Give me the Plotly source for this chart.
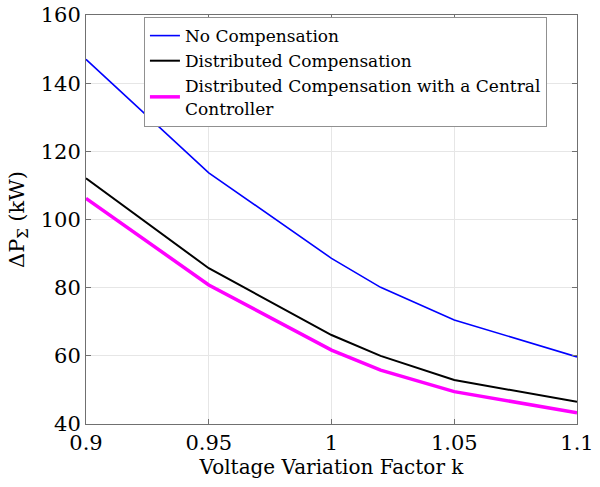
import plotly.graph_objects as go

# Voltage variation factor k
k_values = [0.9, 0.95, 1.0, 1.02, 1.05, 1.1]

# Total power loss ΔP_Σ in kW for each scheme
loss_no_comp = [147.0, 113.7, 88.6, 80.1, 70.5, 59.7]
loss_distributed = [112.1, 85.7, 66.1, 60.0, 52.9, 46.5]
loss_central = [106.2, 80.8, 61.7, 55.8, 49.5, 43.3]

series_names = [
    "No Compensation",
    "Distributed Compensation",
    "Distributed Compensation with a Central<br>Controller",
]

x_tick_vals = [0.9, 0.95, 1.0, 1.05, 1.1]
x_tick_text = ["0.9", "0.95", "1", "1.05", "1.1"]
y_tick_vals = [40, 60, 80, 100, 120, 140, 160]

FONT = "DejaVu Serif"

fig = go.Figure()
fig.add_trace(go.Scatter(x=k_values, y=loss_no_comp, mode="lines",
                         name=series_names[0],
                         line=dict(color="#0000ff", width=1.6)))
fig.add_trace(go.Scatter(x=k_values, y=loss_distributed, mode="lines",
                         name=series_names[1],
                         line=dict(color="#000000", width=2)))
fig.add_trace(go.Scatter(x=k_values, y=loss_central, mode="lines",
                         name=series_names[2],
                         line=dict(color="#ff00ff", width=3.5)))

axis_common = dict(
    showline=True, linecolor="#707070", linewidth=1, mirror="ticks",
    ticks="inside", ticklen=5, tickcolor="#707070",
    showgrid=True, gridcolor="#e6e6e6", gridwidth=1,
    zeroline=False,
    tickfont=dict(family=FONT, size=21, color="#000000"),
)

fig.update_layout(
    width=600, height=487,
    margin=dict(l=86, r=23, t=15, b=63),
    paper_bgcolor="white", plot_bgcolor="white",
    font=dict(family=FONT, color="#000000"),
    showlegend=True,
    legend=dict(
        x=0.118, y=0.995, xanchor="left", yanchor="top",
        bgcolor="white", bordercolor="#909090", borderwidth=1,
        font=dict(family=FONT, size=17, color="#000000"),
        tracegroupgap=0, itemwidth=30,
    ),
    xaxis=dict(
        range=[0.9, 1.1], tickvals=x_tick_vals, ticktext=x_tick_text,
        automargin="bottom",
        title=dict(text="Voltage Variation Factor k", standoff=2,
                   font=dict(family=FONT, size=20, color="#000000")),
        **axis_common,
    ),
    yaxis=dict(
        range=[40, 160], tickvals=y_tick_vals,
        automargin="left",
        title=dict(text="ΔP<sub>Σ</sub> (kW)", standoff=10,
                   font=dict(family=FONT, size=21, color="#000000")),
        **axis_common,
    ),
)

fig.write_html("out.html")
